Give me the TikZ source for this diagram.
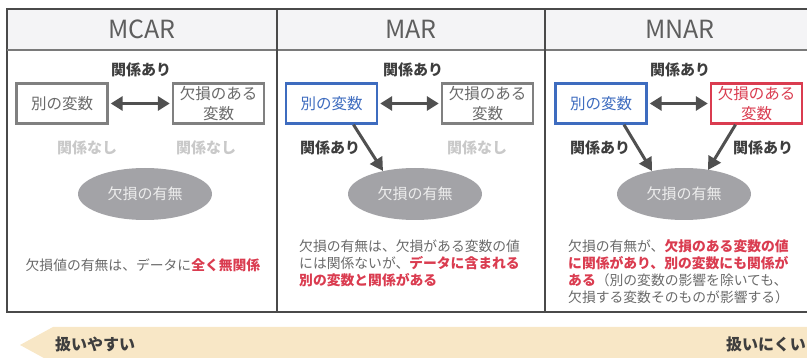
\documentclass[tikz,border=0pt]{standalone}
\usepackage{fontspec}
\setmainfont{Noto Sans CJK JP}
\usetikzlibrary{arrows.meta,shapes.geometric}
\definecolor{linec}{HTML}{4A4A4A}
\definecolor{headc}{HTML}{F4F4F6}
\definecolor{headline}{HTML}{7A7A7A}
\definecolor{grayt}{HTML}{6A6A6A}
\definecolor{titlet}{HTML}{5E5E5E}
\definecolor{lightt}{HTML}{C9C9C9}
\definecolor{darkt}{HTML}{3E3E3E}
\definecolor{redt}{HTML}{DA3C50}
\definecolor{bluet}{HTML}{3E6CBF}
\definecolor{boxgray}{HTML}{808080}
\definecolor{ellc}{HTML}{A3A3A7}
\definecolor{elltext}{HTML}{EDEDED}
\definecolor{bandc}{HTML}{F8E7C6}
\definecolor{arrc}{HTML}{505050}
\begin{document}
\begin{tikzpicture}[x=1pt,y=-1pt,
  title/.style={font=\fontsize{25}{27}\selectfont, text=titlet, inner sep=0},
  rel/.style={font=\fontsize{15}{17}\selectfont\bfseries, text=darkt, inner sep=0},
  norel/.style={font=\fontsize{15}{17}\selectfont\bfseries, text=lightt, inner sep=0},
  varbox/.style={draw=boxgray, line width=2.4pt, fill=white, minimum width=91pt, minimum height=40pt, inner sep=0, align=center, font=\fontsize{15.5}{19.5}\selectfont, text=grayt},
  bluebox/.style={varbox, draw=bluet, text=bluet},
  redbox/.style={varbox, draw=redt, text=redt},
  miss/.style={ellipse, fill=ellc, minimum width=134pt, minimum height=52pt, inner sep=0, font=\fontsize{15}{17}\selectfont, text=elltext},
  dbl/.style={arrc, line width=3pt, {Triangle[length=12pt,width=14pt]}-{Triangle[length=12pt,width=14pt]}, shorten <=2pt, shorten >=2pt},
  arr/.style={arrc, line width=3pt, -{Triangle[length=13pt,width=14pt]}},
  desc/.style={font=\fontsize{13.8}{16}\selectfont, text=grayt, inner sep=0},
  bandtext/.style={font=\fontsize{16}{18}\selectfont\bfseries, text=darkt, inner sep=0}
]
\useasboundingbox (0,0) rectangle (807,358);
\clip (0,0) rectangle (807,358);
% bottom band
\fill[bandc] (20,345) -- (53,327) -- (830,327) -- (830,363) -- (53,363) -- cycle;
\node[bandtext, anchor=west] (easy) at (55,344) {扱いやすい};
\node[bandtext, anchor=east] (hard) at (806,344) {扱いにくい};
% table
\fill[headc] (7,9) rectangle (830,50);
\draw[linec, line width=1.3pt] (7,9) rectangle (830,312);
\draw[headline, line width=2.5pt] (7,50) -- (830,50);
\draw[linec, line width=1.3pt] (277,9) -- (277,312);
\draw[linec, line width=1.3pt] (545,9) -- (545,312);
\node[title] (t1) at (142,29) {MCAR};
\node[title] (t2) at (411,29) {MAR};
\node[title] (t3) at (680,29) {MNAR};
% MCAR
\node[rel] (r1) at (141,70) {関係あり};
\node[varbox] (a1) at (62,103.5) {別の変数};
\node[varbox] (m1) at (218.5,103.5) {欠損のある\\変数};
\draw[dbl] (a1) -- (m1);
\node[norel] (n1a) at (87,148) {関係なし};
\node[norel] (n1b) at (206,148) {関係なし};
\node[miss] (e1) at (145,194) {欠損の有無};
\node[desc] (d1) at (143,265) {欠損値の有無は、データに{\color{redt}\bfseries 全く無関係}};
% MAR
\node[rel] (r2) at (413,70) {関係あり};
\node[bluebox] (a2) at (331.5,103.5) {別の変数};
\node[varbox] (m2) at (487.5,103.5) {欠損のある\\変数};
\draw[dbl] (a2) -- (m2);
\node[rel] (r2b) at (330,148) {関係あり};
\node[norel] (n2) at (477,148) {関係なし};
\node[miss] (e2) at (415,194) {欠損の有無};
\draw[arr] ([xshift=22pt]a2.south) -- ([shift={(-32,-23)}]e2.center);
\node[desc, anchor=base west] (d2a) at (299,252) {欠損の有無は、欠損がある変数の値};
\node[desc, anchor=base west] (d2b) at (299,269) {には関係ないが、{\color{redt}\bfseries データに含まれる}};
\node[desc, anchor=base west, text=redt, font=\fontsize{13.8}{16}\selectfont\bfseries] (d2c) at (299,286) {別の変数と関係がある};
% MNAR
\node[rel] (r3) at (680,70) {関係あり};
\node[bluebox] (a3) at (601,103.5) {別の変数};
\node[redbox] (m3) at (756.5,103.5) {欠損のある\\変数};
\draw[dbl] (a3) -- (m3);
\node[rel] (r3a) at (600,148) {関係あり};
\node[rel] (r3b) at (763,148) {関係あり};
\node[miss] (e3) at (684,194) {欠損の有無};
\draw[arr] ([xshift=23pt]a3.south) -- ([shift={(-32,-23)}]e3.center);
\draw[arr] ([xshift=-21pt]m3.south) -- ([shift={(24,-24)}]e3.center);
\node[desc, anchor=base west] (d3a) at (568,252) {欠損の有無が、{\color{redt}\bfseries 欠損のある変数の値}};
\node[desc, anchor=base west, text=redt, font=\fontsize{13.8}{16}\selectfont\bfseries] (d3b) at (568,269) {に関係があり、別の変数にも関係が};
\node[desc, anchor=base west] (d3c) at (568,286) {{\color{redt}\bfseries ある}（別の変数の影響を除いても、};
\node[desc, anchor=base west] (d3d) at (568,303) {欠損する変数そのものが影響する）};
\end{tikzpicture}
\end{document}
